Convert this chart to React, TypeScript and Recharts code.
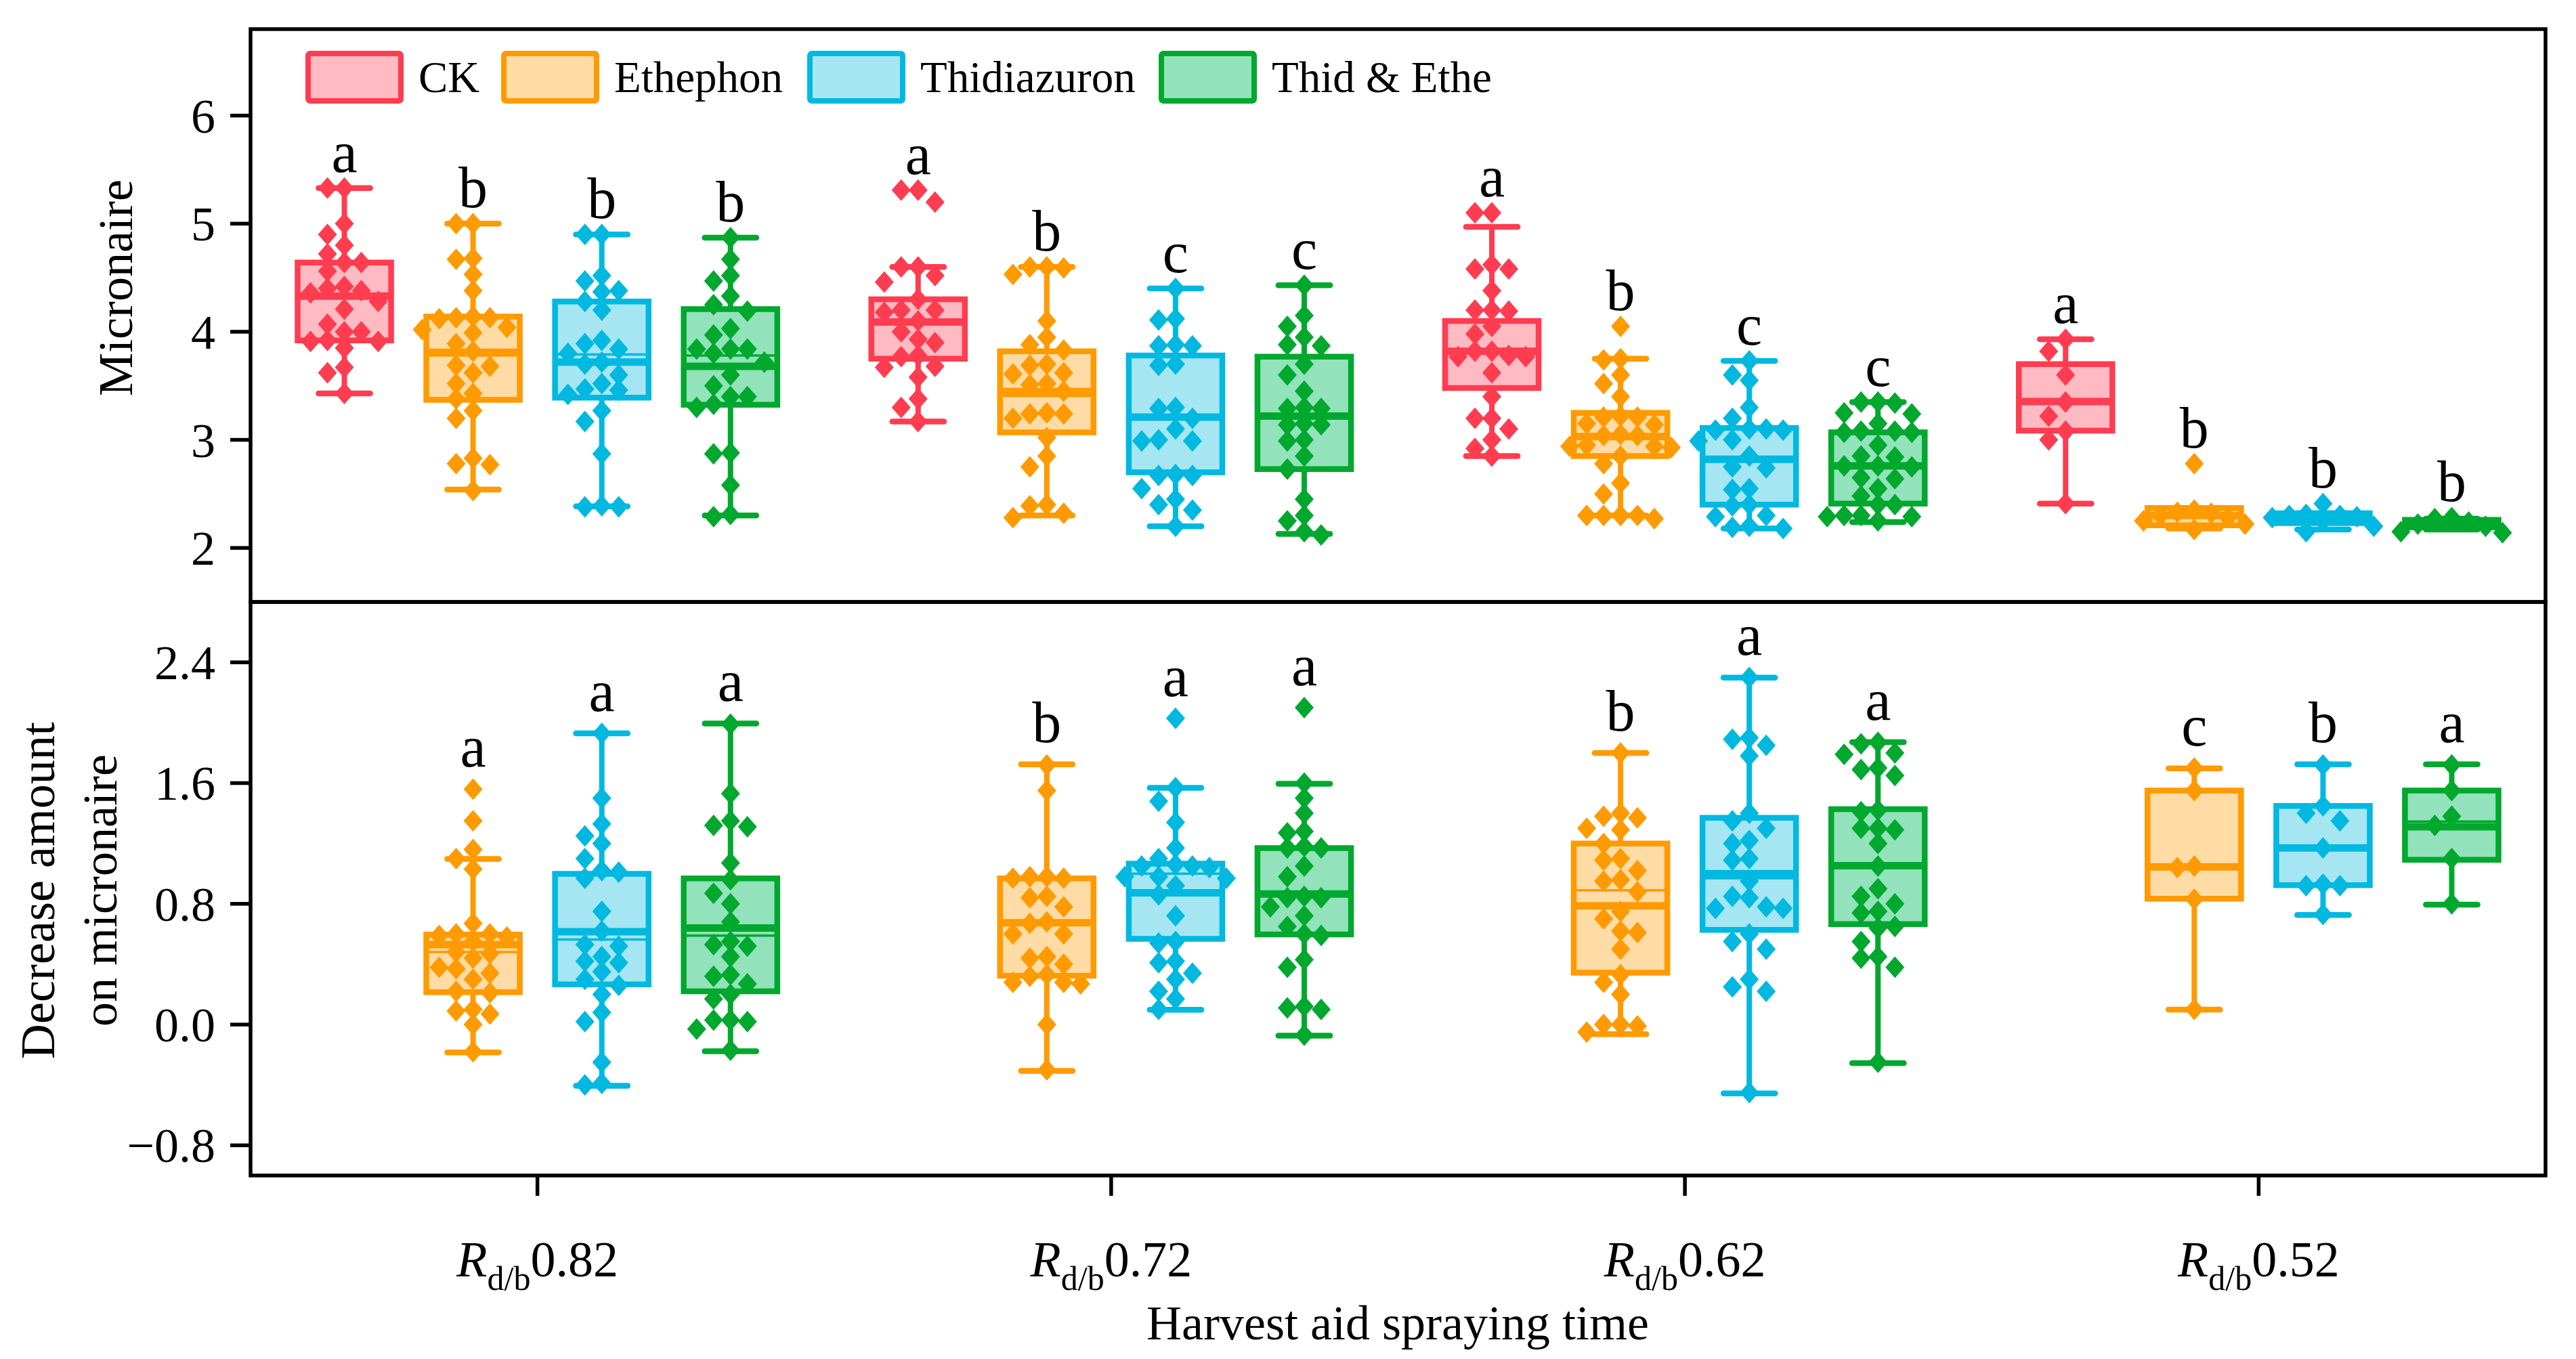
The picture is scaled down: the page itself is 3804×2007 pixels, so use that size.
import React from 'react';
import { ComposedChart, XAxis, YAxis, Scatter, ReferenceArea, ReferenceLine, Customized } from 'recharts';

const FONT = "'Liberation Serif', 'Times New Roman', Times, serif";

// ---------- categories / labels ----------
const treatments = ['CK', 'Ethephon', 'Thidiazuron', 'Thid & Ethe'];
const stageLabels = ['0.82', '0.72', '0.62', '0.52'];
const stageTicks = [0.5, 1.5, 2.5, 3.5];
const micTicks = [2, 3, 4, 5, 6];
const decTicks = [-0.8, 0, 0.8, 1.6, 2.4];
const strokeColors = ['#FF3C50', '#FF9A00', '#00B8E0', '#00A82D'];
const fillColors = ['#FFBAC2', '#FFDCA5', '#A5E6F2', '#92E2BB'];

// ---------- Micronaire (top panel) ----------
// box stats: [lower whisker, Q1, median, Q3, upper whisker, mean]
const ckMicBox = [
  [3.43, 3.92, 4.33, 4.64, 5.33, 4.31],
  [3.17, 3.75, 4.09, 4.3, 4.6, 4.08],
  [2.85, 3.48, 3.82, 4.1, 4.97, 3.8],
  [2.41, 3.085, 3.355, 3.7, 3.93, 3.36],
];
const ethMicBox = [
  [2.54, 3.37, 3.81, 4.14, 5.0, 3.78],
  [2.3, 3.07, 3.43, 3.82, 4.6, 3.47],
  [2.3, 2.85, 3.03, 3.25, 3.75, 3.05],
  [2.18, 2.21, 2.3, 2.37, 2.37, 2.3],
];
const thidMicBox = [
  [2.385, 3.39, 3.72, 4.28, 4.9, 3.79],
  [2.2, 2.7, 3.21, 3.78, 4.4, 3.2],
  [2.18, 2.4, 2.82, 3.11, 3.73, 2.8],
  [2.17, 2.23, 2.28, 2.32, 2.32, 2.28],
];
const teMicBox = [
  [2.3, 3.325, 3.68, 4.21, 4.87, 3.78],
  [2.13, 2.73, 3.22, 3.77, 4.43, 3.2],
  [2.24, 2.41, 2.76, 3.07, 3.35, 2.74],
  [2.17, 2.19, 2.22, 2.26, 2.27, 2.22],
];
const ckMicPoints = [
  [5.33, 5.33, 5.0, 4.9, 4.8, 4.72, 4.64, 4.64, 4.56, 4.42, 4.4, 4.38, 4.36, 4.28, 4.21, 4.07, 4.0, 4.0, 3.92, 3.91, 3.91, 3.85, 3.67, 3.62, 3.43],
  [5.31, 5.31, 5.2, 4.6, 4.6, 4.52, 4.46, 4.3, 4.2, 4.2, 4.18, 4.1, 4.0, 3.93, 3.9, 3.78, 3.77, 3.68, 3.67, 3.58, 3.38, 3.3, 3.17],
  [5.1, 5.1, 4.62, 4.58, 4.58, 4.38, 4.2, 4.2, 4.19, 4.05, 3.98, 3.82, 3.82, 3.78, 3.77, 3.77, 3.62, 3.4, 3.2, 3.2, 3.1, 3.0, 2.92, 2.85],
  [3.93, 3.82, 3.6, 3.35, 3.22, 3.08, 3.0, 2.41],
];
const ethMicPoints = [
  [5.0, 5.0, 4.68, 4.67, 4.53, 4.38, 4.14, 4.13, 4.13, 4.12, 4.04, 4.02, 3.99, 3.89, 3.82, 3.69, 3.68, 3.62, 3.52, 3.43, 3.38, 3.27, 3.2, 2.83, 2.78, 2.77, 2.53],
  [4.6, 4.6, 4.59, 4.53, 4.1, 3.95, 3.88, 3.83, 3.7, 3.69, 3.62, 3.61, 3.52, 3.51, 3.45, 3.25, 3.24, 3.24, 3.2, 3.02, 2.85, 2.75, 2.4, 2.39, 2.32, 2.28],
  [4.05, 3.75, 3.74, 3.6, 3.52, 3.4, 3.22, 3.21, 3.21, 3.15, 3.14, 3.05, 3.04, 3.04, 2.95, 2.94, 2.94, 2.93, 2.85, 2.78, 2.6, 2.5, 2.3, 2.3, 2.3, 2.3, 2.27],
  [2.78, 2.35, 2.33, 2.32, 2.3, 2.28, 2.25, 2.22, 2.17],
];
const thidMicPoints = [
  [4.9, 4.9, 4.52, 4.47, 4.38, 4.37, 4.28, 4.2, 3.92, 3.89, 3.84, 3.8, 3.72, 3.7, 3.6, 3.52, 3.47, 3.46, 3.42, 3.27, 3.17, 2.87, 2.39, 2.38, 2.38],
  [4.4, 4.12, 4.11, 3.88, 3.87, 3.87, 3.7, 3.69, 3.3, 3.29, 3.2, 3.1, 3.0, 2.99, 2.99, 2.68, 2.67, 2.67, 2.55, 2.45, 2.4, 2.35, 2.2],
  [3.73, 3.6, 3.55, 3.3, 3.2, 3.1, 3.1, 3.09, 3.09, 3.0, 2.99, 2.85, 2.75, 2.74, 2.55, 2.54, 2.4, 2.39, 2.3, 2.29, 2.2, 2.19, 2.18],
  [2.41, 2.31, 2.3, 2.3, 2.29, 2.28, 2.25, 2.2, 2.15],
];
const teMicPoints = [
  [4.87, 4.67, 4.52, 4.47, 4.33, 4.25, 4.19, 4.03, 3.97, 3.84, 3.84, 3.84, 3.8, 3.72, 3.6, 3.5, 3.4, 3.4, 3.33, 3.3, 2.88, 2.87, 2.58, 2.31, 2.29],
  [4.43, 4.15, 4.05, 3.95, 3.88, 3.87, 3.7, 3.6, 3.45, 3.3, 3.29, 3.29, 3.15, 3.14, 3.14, 3.0, 2.99, 2.85, 2.73, 2.45, 2.3, 2.25, 2.15, 2.12],
  [3.35, 3.35, 3.34, 3.25, 3.24, 3.15, 3.08, 3.08, 3.07, 3.07, 2.95, 2.85, 2.84, 2.76, 2.76, 2.75, 2.65, 2.64, 2.55, 2.48, 2.4, 2.4, 2.3, 2.3, 2.29, 2.29, 2.25],
  [2.28, 2.27, 2.24, 2.22, 2.2, 2.15, 2.14],
];
const ckMicLetters = ['a', 'a', 'a', 'a'];
const ethMicLetters = ['b', 'b', 'b', 'b'];
const thidMicLetters = ['b', 'c', 'c', 'b'];
const teMicLetters = ['b', 'c', 'c', 'b'];

// ---------- Decrease amount (bottom panel) ----------
const ethDecBox = [
  [-0.185, 0.215, 0.53, 0.596, 1.097, 0.48],
  [-0.307, 0.323, 0.674, 0.968, 1.724, 0.67],
  [-0.064, 0.344, 0.787, 1.2, 1.8, 0.89],
  [0.099, 0.834, 1.045, 1.551, 1.698, 1.04],
];
const thidDecBox = [
  [-0.405, 0.266, 0.615, 0.999, 1.93, 0.563],
  [0.098, 0.568, 0.873, 1.066, 1.569, 1.0],
  [-0.456, 0.627, 1.0, 1.37, 2.299, 0.97],
  [0.726, 0.924, 1.17, 1.448, 1.724, 1.17],
];
const teDecBox = [
  [-0.177, 0.22, 0.64, 0.968, 1.995, 0.589],
  [-0.074, 0.597, 0.865, 1.169, 1.595, 0.86],
  [-0.255, 0.666, 1.053, 1.427, 1.871, 1.05],
  [0.795, 1.092, 1.31, 1.551, 1.724, 1.345],
];
const ethDecPoints = [
  [1.56, 1.35, 1.16, 1.1, 1.03, 0.67, 0.6, 0.6, 0.59, 0.58, 0.55, 0.48, 0.47, 0.44, 0.38, 0.37, 0.34, 0.3, 0.22, 0.21, 0.1, 0.09, 0.07, 0.0, -0.18],
  [1.72, 1.55, 0.98, 0.98, 0.97, 0.97, 0.85, 0.84, 0.78, 0.68, 0.67, 0.6, 0.6, 0.45, 0.44, 0.4, 0.33, 0.32, 0.28, 0.28, 0.27, 0.0, -0.3],
  [1.8, 1.4, 1.38, 1.37, 1.3, 1.29, 1.2, 1.1, 1.09, 1.02, 0.96, 0.95, 0.88, 0.75, 0.7, 0.62, 0.61, 0.5, 0.33, 0.28, 0.2, 0.0, 0.0, -0.01, -0.05],
  [1.7, 1.55, 1.05, 1.04, 0.83, 0.1],
];
const thidDecPoints = [
  [1.93, 1.5, 1.33, 1.25, 1.2, 1.1, 1.02, 1.01, 0.97, 0.75, 0.62, 0.53, 0.52, 0.45, 0.42, 0.41, 0.35, 0.3, 0.26, 0.2, 0.08, 0.02, -0.25, -0.39, -0.4],
  [2.03, 1.57, 1.48, 1.34, 1.17, 1.1, 1.06, 1.05, 1.05, 1.04, 0.98, 0.98, 0.97, 0.92, 0.86, 0.72, 0.55, 0.54, 0.42, 0.41, 0.34, 0.3, 0.22, 0.17, 0.1],
  [2.3, 1.9, 1.89, 1.85, 1.78, 1.4, 1.35, 1.3, 1.22, 1.2, 1.1, 1.09, 0.95, 0.85, 0.84, 0.78, 0.77, 0.77, 0.6, 0.55, 0.5, 0.3, 0.25, 0.22, -0.45],
  [1.72, 1.45, 1.4, 1.35, 1.17, 0.93, 0.92, 0.92, 0.73],
];
const teDecPoints = [
  [1.99, 1.53, 1.35, 1.32, 1.31, 1.07, 0.96, 0.87, 0.8, 0.68, 0.55, 0.53, 0.52, 0.45, 0.33, 0.32, 0.27, 0.2, 0.17, 0.03, 0.03, 0.02, -0.03, -0.17],
  [2.1, 1.6, 1.5, 1.4, 1.28, 1.27, 1.18, 1.17, 1.17, 1.05, 0.98, 0.85, 0.84, 0.84, 0.78, 0.72, 0.65, 0.6, 0.59, 0.43, 0.38, 0.12, 0.11, 0.1, -0.07],
  [1.87, 1.86, 1.8, 1.79, 1.7, 1.69, 1.65, 1.42, 1.41, 1.3, 1.3, 1.29, 1.2, 1.05, 0.9, 0.85, 0.8, 0.75, 0.74, 0.65, 0.64, 0.55, 0.45, 0.44, 0.38, -0.25],
  [1.72, 1.55, 1.38, 1.32, 1.1, 0.8],
];
const ethDecLetters = ['a', 'b', 'b', 'c'];
const thidDecLetters = ['a', 'a', 'a', 'b'];
const teDecLetters = ['a', 'a', 'a', 'a'];

// ---------- layout constants (not data) ----------
const W = 3804;
const MIC_DOMAIN: [number, number] = [1.5, 6.8];
const DEC_DOMAIN: [number, number] = [-1.0, 2.8];
const TREAT_OFFSET = [-0.3365, -0.1122, 0.1122, 0.3365];
const BOX_HALF = 0.0815;
const CAP_HALF = 0.045;
const SLOT = 0.0295;

type Stat = number[];

function swarm(values: number[], center: number, minGap: number) {
  const placed: { y: number; s: number }[] = [];
  const order = values.map((v, i) => ({ v, i })).sort((a, b) => b.v - a.v);
  const out: { x: number; y: number }[] = new Array(values.length);
  for (const { v, i } of order) {
    for (let k = 0; k < 30; k++) {
      const s = k === 0 ? 0 : k % 2 === 1 ? -Math.ceil(k / 2) : Math.ceil(k / 2);
      if (!placed.some((p) => p.s === s && Math.abs(p.y - v) < minGap)) {
        placed.push({ y: v, s });
        out[i] = { x: center + s * SLOT, y: v };
        break;
      }
    }
  }
  return out;
}

interface SeriesSpec {
  ti: number;
  boxes: Stat[];
  points: number[][];
  letters: string[];
}

function buildSeries(spec: SeriesSpec, minGap: number, panel: string) {
  const { ti, boxes, points } = spec;
  const stroke = strokeColors[ti];
  const fill = fillColors[ti];
  const areas: React.ReactNode[] = [];
  const lines: React.ReactNode[] = [];
  boxes.forEach((b, g) => {
    const cx = g + 0.5 + TREAT_OFFSET[ti];
    const [lo, q1, med, q3, hi, mean] = b;
    const k = `${panel}-${ti}-${g}`;
    lines.push(
      <ReferenceLine key={`wl-${k}`} segment={[{ x: cx, y: lo }, { x: cx, y: q1 }]} stroke={stroke} strokeWidth={8} ifOverflow="visible" />,
      <ReferenceLine key={`wh-${k}`} segment={[{ x: cx, y: q3 }, { x: cx, y: hi }]} stroke={stroke} strokeWidth={8} ifOverflow="visible" />,
      <ReferenceLine key={`cl-${k}`} segment={[{ x: cx - CAP_HALF, y: lo }, { x: cx + CAP_HALF, y: lo }]} stroke={stroke} strokeWidth={8.5} strokeLinecap="round" ifOverflow="visible" />,
      <ReferenceLine key={`ch-${k}`} segment={[{ x: cx - CAP_HALF, y: hi }, { x: cx + CAP_HALF, y: hi }]} stroke={stroke} strokeWidth={8.5} strokeLinecap="round" ifOverflow="visible" />,
    );
    areas.push(
      <ReferenceArea key={`bx-${k}`} x1={cx - BOX_HALF} x2={cx + BOX_HALF} y1={q1} y2={q3} fill={fill} fillOpacity={1} stroke={stroke} strokeWidth={8.5} ifOverflow="visible" />,
    );
    lines.push(
      <ReferenceLine key={`mn-${k}`} segment={[{ x: cx - BOX_HALF, y: mean }, { x: cx + BOX_HALF, y: mean }]} stroke={stroke} strokeWidth={3.5} ifOverflow="visible" />,
      <ReferenceLine key={`md-${k}`} segment={[{ x: cx - BOX_HALF, y: med }, { x: cx + BOX_HALF, y: med }]} stroke={stroke} strokeWidth={11} ifOverflow="visible" />,
    );
  });
  const pts = points.flatMap((vals, g) => swarm(vals, g + 0.5 + TREAT_OFFSET[ti], minGap));
  return { areas, lines, pts };
}

const Diamond = (props: any) => {
  const { cx, cy, color } = props;
  if (cx == null || cy == null) return null;
  return <polygon points={`${cx},${cy - 16} ${cx + 14},${cy} ${cx},${cy + 16} ${cx - 14},${cy}`} fill={color} />;
};

function letterData(spec: SeriesSpec) {
  return spec.boxes.map((b, g) => ({
    x: g + 0.5 + TREAT_OFFSET[spec.ti],
    y: Math.max(b[4], ...spec.points[g]),
    letter: spec.letters[g],
  }));
}

function renderPanel(specs: SeriesSpec[], minGap: number, panel: string, letterGap: number, domain: [number, number]) {
  const built = specs.map((s) => buildSeries(s, minGap, panel));
  const out: React.ReactNode[] = [];
  built.forEach((b) => out.push(...b.areas));
  built.forEach((b) => out.push(...b.lines));
  built.forEach((b, i) => {
    const color = strokeColors[specs[i].ti];
    out.push(
      <Scatter key={`pts-${panel}-${i}`} data={b.pts} isAnimationActive={false} shape={(p: any) => <Diamond {...p} color={color} />} />,
    );
  });
  specs.forEach((s, i) => {
    out.push(
      <Scatter
        key={`let-${panel}-${i}`}
        data={letterData(s)}
        isAnimationActive={false}
        shape={(p: any) => (
          <text x={p.cx} y={p.cy - letterGap} textAnchor="middle" fontSize={86} fontFamily={FONT} fill="#000">
            {p.payload && p.payload.letter}
          </text>
        )}
      />,
    );
  });
  out.push(
    <ReferenceArea key={`frame-${panel}`} x1={0} x2={4} y1={domain[0]} y2={domain[1]} fill="none" fillOpacity={0} stroke="#000" strokeWidth={5.5} ifOverflow="visible" />,
  );
  return out;
}

const micSpecs: SeriesSpec[] = [
  { ti: 0, boxes: ckMicBox, points: ckMicPoints, letters: ckMicLetters },
  { ti: 1, boxes: ethMicBox, points: ethMicPoints, letters: ethMicLetters },
  { ti: 2, boxes: thidMicBox, points: thidMicPoints, letters: thidMicLetters },
  { ti: 3, boxes: teMicBox, points: teMicPoints, letters: teMicLetters },
];
const decSpecs: SeriesSpec[] = [
  { ti: 1, boxes: ethDecBox, points: ethDecPoints, letters: ethDecLetters },
  { ti: 2, boxes: thidDecBox, points: thidDecPoints, letters: thidDecLetters },
  { ti: 3, boxes: teDecBox, points: teDecPoints, letters: teDecLetters },
];

const legendX = [451, 740, 1192, 1711];

const TopDecor = () => (
  <g>
    {treatments.map((t, i) => (
      <g key={t}>
        <rect x={legendX[i] + 4} y={79} width={137} height={70} rx={3} fill={fillColors[i]} stroke={strokeColors[i]} strokeWidth={8} />
        <text x={legendX[i] + 167} y={136} fontSize={65} fontFamily={FONT} fill="#000">{t}</text>
      </g>
    ))}
    <text transform="rotate(-90 195 425)" x={195} y={425} textAnchor="middle" fontSize={72} fontFamily={FONT} fill="#000">Micronaire</text>
  </g>
);

const BottomDecor = () => (
  <g>
    <text transform="rotate(-90 80 435)" x={80} y={435} textAnchor="middle" fontSize={72} fontFamily={FONT} fill="#000">Decrease amount</text>
    <text transform="rotate(-90 172 435)" x={172} y={435} textAnchor="middle" fontSize={72} fontFamily={FONT} fill="#000">on micronaire</text>
    <text x={2064} y={1098} textAnchor="middle" fontSize={72} fontFamily={FONT} fill="#000">Harvest aid spraying time</text>
  </g>
);

const XTick = (props: any) => {
  const { x, y, payload } = props;
  const idx = stageTicks.indexOf(payload.value);
  return (
    <text x={x} y={y + 119} textAnchor="middle" fontSize={74} fontFamily={FONT} fill="#000">
      <tspan fontStyle="italic">R</tspan>
      <tspan fontSize={50} dy={20}>d/b</tspan>
      <tspan dy={-20}>{stageLabels[idx]}</tspan>
    </text>
  );
};

const YTick = (props: any) => {
  const { x, y, payload, fmt } = props;
  const v = payload.value as number;
  return (
    <text x={x} y={y} dy={25} textAnchor="end" fontSize={72} fontFamily={FONT} fill="#000">
      {fmt ? fmt(v) : String(v)}
    </text>
  );
};

const fmtDec = (v: number) => (v < 0 ? '\u2212' + Math.abs(v).toFixed(1) : v.toFixed(1));

export default function App() {
  return (
    <div style={{ position: 'absolute', left: 0, top: 0, width: W, height: 2007, background: '#fff', fontFamily: FONT }}>
      <div style={{ position: 'absolute', left: 0, top: 0 }}>
        <ComposedChart width={W} height={895} margin={{ top: 43, right: 45, bottom: 6, left: 170 }}>
          <XAxis type="number" dataKey="x" domain={[0, 4]} allowDataOverflow hide />
          <YAxis
            type="number"
            dataKey="y"
            domain={MIC_DOMAIN}
            allowDataOverflow
            ticks={micTicks}
            interval={0}
            width={200}
            axisLine={false}
            tickLine={{ stroke: '#000', strokeWidth: 5.5 }}
            tickSize={30}
            tickMargin={22}
            tick={<YTick />}
          />
          {renderPanel(micSpecs, 0.14, 'mic', 24, MIC_DOMAIN)}
          <Customized component={TopDecor} />
        </ComposedChart>
      </div>
      <div style={{ position: 'absolute', left: 0, top: 880 }}>
        <ComposedChart width={W} height={1127} margin={{ top: 9, right: 45, bottom: 0, left: 170 }}>
          <XAxis
            type="number"
            dataKey="x"
            domain={[0, 4]}
            allowDataOverflow
            ticks={stageTicks}
            interval={0}
            height={271}
            axisLine={false}
            tickLine={{ stroke: '#000', strokeWidth: 5.5 }}
            tickSize={30}
            tickMargin={0}
            tick={<XTick />}
          />
          <YAxis
            type="number"
            dataKey="y"
            domain={DEC_DOMAIN}
            allowDataOverflow
            ticks={decTicks}
            interval={0}
            width={200}
            axisLine={false}
            tickLine={{ stroke: '#000', strokeWidth: 5.5 }}
            tickSize={30}
            tickMargin={22}
            tick={<YTick fmt={fmtDec} />}
          />
          {renderPanel(decSpecs, 0.1, 'dec', 33, DEC_DOMAIN)}
          <Customized component={BottomDecor} />
        </ComposedChart>
      </div>
    </div>
  );
}
